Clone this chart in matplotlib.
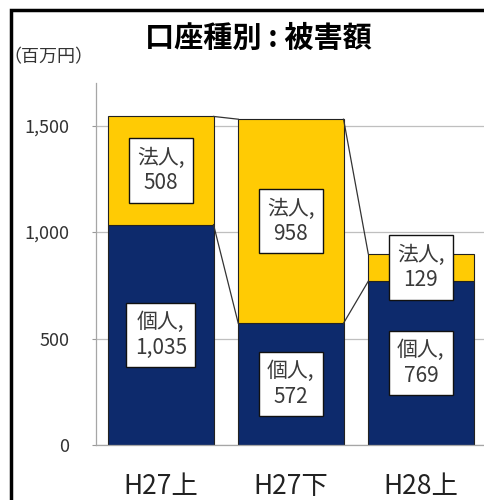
import matplotlib

matplotlib.use("Agg")
import matplotlib.pyplot as plt
from matplotlib.patches import Rectangle

plt.rcParams["font.family"] = ["Noto Sans CJK JP", "DejaVu Sans"]

categories = ["H27上", "H27下", "H28上"]
kojin = [1035, 572, 769]
hojin = [508, 958, 129]
series_names = ["個人", "法人"]

NAVY = "#0d2a6c"
GOLD = "#ffcb04"
BAR_W = 0.81

fig = plt.figure(figsize=(4.84, 5.0), dpi=100)
ax = fig.add_axes([0.198, 0.11, 0.806, 0.724])

x = list(range(len(categories)))
ax.bar(x, kojin, width=BAR_W, color=NAVY, edgecolor="#222222", linewidth=0.8, zorder=2)
ax.bar(x, hojin, width=BAR_W, bottom=kojin, color=GOLD, edgecolor="#222222", linewidth=0.8, zorder=2)

# series lines between bars
tops = [k + h for k, h in zip(kojin, hojin)]
for i in range(len(categories) - 1):
    for level in (kojin, tops):
        ax.plot([i + BAR_W / 2, i + 1 - BAR_W / 2], [level[i], level[i + 1]],
                color="#333333", linewidth=0.9, zorder=3)

# data labels
box = dict(boxstyle="square,pad=0.4", facecolor="white", edgecolor="#111111", linewidth=1.0)
for i in x:
    ax.text(i, kojin[i] / 2, f"{series_names[0]},\n{kojin[i]:,}", ha="center", va="center",
            fontsize=15, color="#3a3a3a", linespacing=1.2, bbox=box, zorder=4)
    ax.text(i, kojin[i] + hojin[i] / 2, f"{series_names[1]},\n{hojin[i]:,}", ha="center", va="center",
            fontsize=15, color="#3a3a3a", linespacing=1.2, bbox=box, zorder=4)

ax.set_xlim(-0.5, len(categories) - 0.5)
ax.set_ylim(0, 1700)
ax.set_yticks([0, 500, 1000, 1500])
ax.set_yticklabels([f"{v:,}" for v in [0, 500, 1000, 1500]], fontsize=13, color="#333333")
ax.set_xticks(x)
ax.set_xticklabels(categories, fontsize=19, color="#222222")
ax.tick_params(axis="x", length=0, pad=20)
ax.tick_params(axis="y", length=3, color="#999999", pad=16)
ax.yaxis.grid(True, color="#bfbfbf", linewidth=0.9, zorder=0)
ax.set_axisbelow(True)
for side in ("top", "right"):
    ax.spines[side].set_visible(False)
for side in ("left", "bottom"):
    ax.spines[side].set_color("#a6a6a6")
    ax.spines[side].set_linewidth(0.9)

fig.text(0.533, 0.924, "口座種別 : 被害額", ha="center", va="center", fontsize=21, fontweight="bold")
fig.text(0.008, 0.885, "（百万円）", ha="left", va="center", fontsize=13, color="#333333")

# outer frame (cut off at right and bottom)
fig.patches.append(Rectangle((11 / 484, -0.1), 1.2, 1.1 - 10 / 500, transform=fig.transFigure,
                             fill=False, edgecolor="black", linewidth=2.5))

fig.savefig("out.png", dpi=100)
